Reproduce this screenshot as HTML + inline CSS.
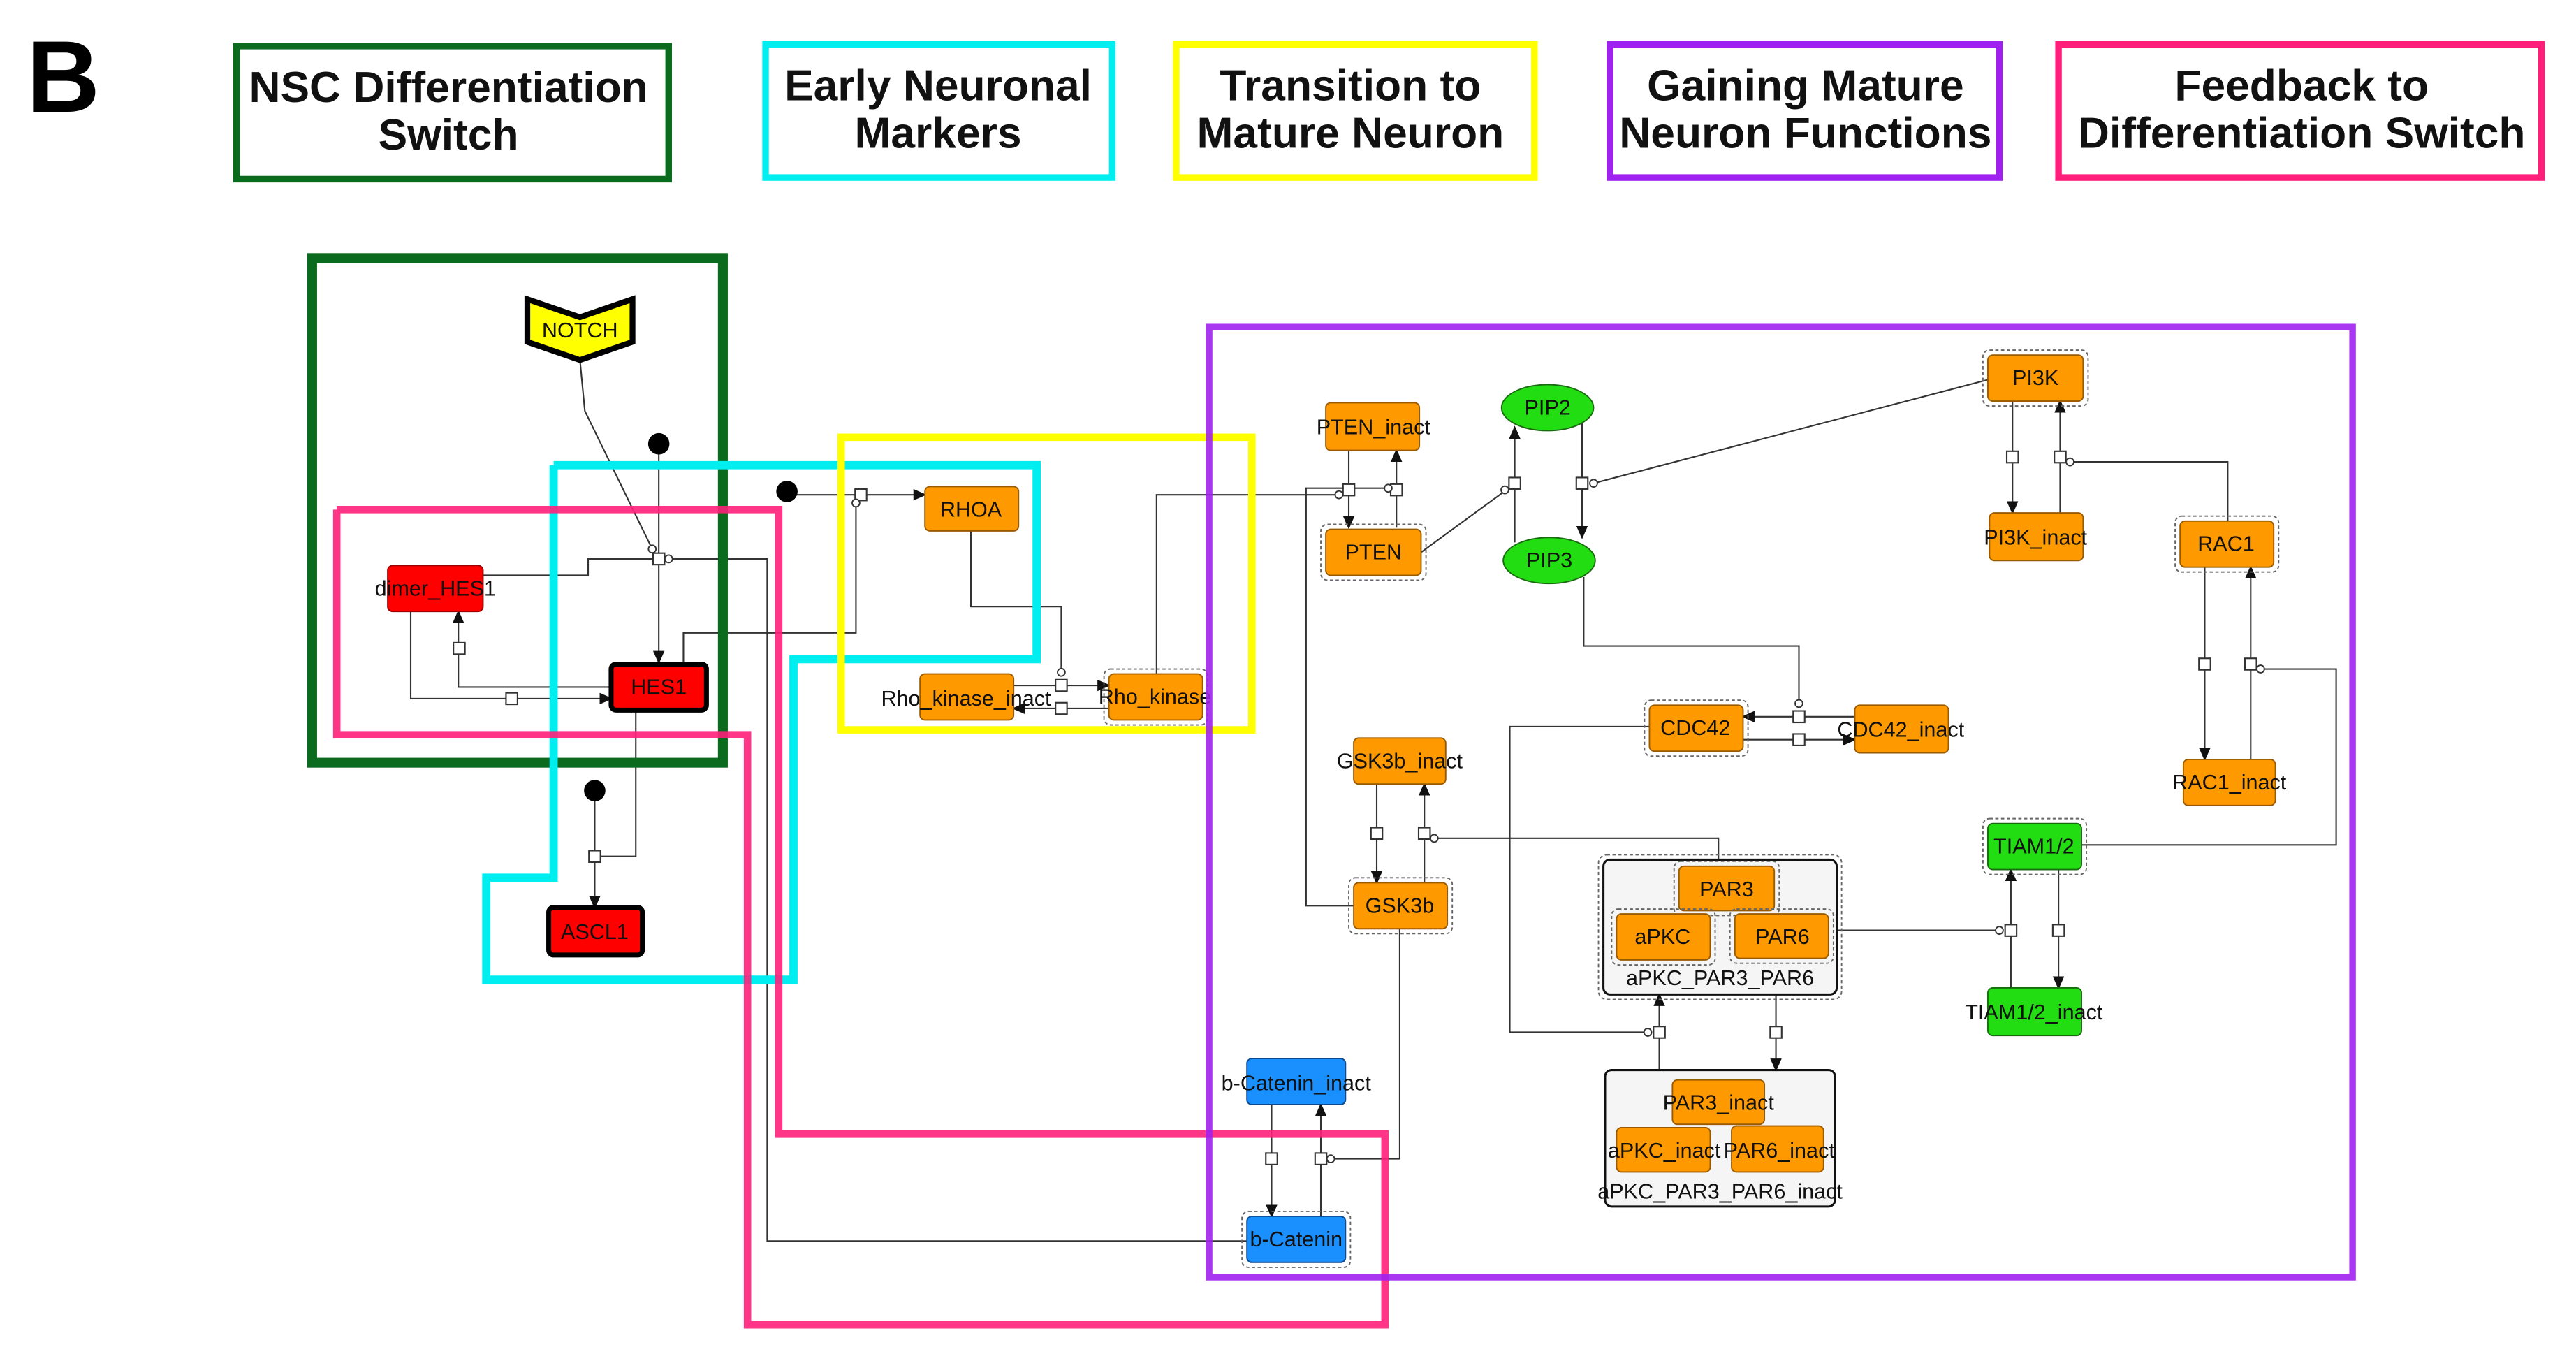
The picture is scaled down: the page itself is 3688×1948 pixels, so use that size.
<!DOCTYPE html>
<html><head><meta charset="utf-8"><style>
html,body{margin:0;padding:0;background:#fff;width:3688px;height:1948px;overflow:hidden}
svg{display:block}
text{font-family:"Liberation Sans",sans-serif}
.n{font-size:13px;text-anchor:middle;dominant-baseline:central;fill:#111}
.lg{font-size:26.5px;font-weight:bold;text-anchor:middle;fill:#111}
.e{fill:none;stroke:#333;stroke-width:0.9}
.sq{fill:#fff;stroke:#333;stroke-width:0.9}
.c{fill:#fff;stroke:#333;stroke-width:0.8}
.o{fill:#ff9900;stroke:#9a5a00;stroke-width:0.8}
.d{fill:none;stroke:#666;stroke-width:0.8;stroke-dasharray:2,1.5}
</style></head><body>
<svg width="3688" height="1948" viewBox="0 0 1568 828" preserveAspectRatio="none">
<defs><marker id="a" markerWidth="8" markerHeight="8" refX="7" refY="4" orient="auto" markerUnits="userSpaceOnUse"><path d="M0,0.5 L8,4 L0,7.5z" fill="#111"/></marker></defs>
<text x="16" y="68" style="font-size:62px;font-weight:bold">B</text>
<rect x="144" y="28" width="263" height="81" fill="none" stroke="#0a6b1f" stroke-width="4"/>
<text class="lg" x="273" y="62">NSC Differentiation</text><text class="lg" x="273" y="91">Switch</text>
<rect x="466" y="27" width="211" height="81" fill="none" stroke="#00eef0" stroke-width="4"/>
<text class="lg" x="571" y="61">Early Neuronal</text><text class="lg" x="571" y="90">Markers</text>
<rect x="716" y="27" width="218" height="81" fill="none" stroke="#ffff00" stroke-width="4"/>
<text class="lg" x="822" y="61">Transition to</text><text class="lg" x="822" y="90">Mature Neuron</text>
<rect x="980" y="27" width="237" height="81" fill="none" stroke="#a020f0" stroke-width="4"/>
<text class="lg" x="1099" y="61">Gaining Mature</text><text class="lg" x="1099" y="90">Neuron Functions</text>
<rect x="1253" y="27" width="294" height="81" fill="none" stroke="#ff1f7a" stroke-width="4"/>
<text class="lg" x="1401" y="61">Feedback to</text><text class="lg" x="1401" y="90">Differentiation Switch</text>

<g class="e">
<polyline points="353,219 356,250 397,334"/>
<line x1="401" y1="276" x2="401" y2="403" marker-end="url(#a)"/>
<polyline points="405,340 467,340 467,755 759,755"/>
<polyline points="294,350 358,350 358,340 398,340"/>
<polyline points="372,418 279,418 279,372" marker-end="url(#a)"/>
<polyline points="250,372 250,425 372,425" marker-end="url(#a)"/>
<polyline points="416,403 416,385 521,385 521,304"/>
<line x1="479" y1="301" x2="563" y2="301" marker-end="url(#a)"/>
<polyline points="387,433 387,521 362,521"/>
<line x1="362" y1="486" x2="362" y2="552" marker-end="url(#a)"/>
<polyline points="591,323 591,369 646,369 646,410"/>
<line x1="617" y1="417" x2="675" y2="417" marker-end="url(#a)"/>
<line x1="675" y1="431" x2="617" y2="431" marker-end="url(#a)"/>
<polyline points="704,410 704,301 815,301"/>
<line x1="821" y1="274" x2="821" y2="321" marker-end="url(#a)"/>
<line x1="850" y1="321" x2="850" y2="274" marker-end="url(#a)"/>
<polyline points="824,551 795,551 795,297 845,297"/>
<line x1="865" y1="336" x2="917" y2="298"/>
<line x1="922" y1="330" x2="922" y2="260" marker-end="url(#a)"/>
<line x1="963" y1="256" x2="963" y2="327" marker-end="url(#a)"/>
<line x1="970" y1="294" x2="1210" y2="231"/>
<polyline points="964,351 964,393 1095,393 1095,428"/>
<line x1="1129" y1="436" x2="1061" y2="436" marker-end="url(#a)"/>
<line x1="1061" y1="450" x2="1129" y2="450" marker-end="url(#a)"/>
<polyline points="1004,442 919,442 919,628 1004,628"/>
<line x1="1010" y1="651" x2="1010" y2="605" marker-end="url(#a)"/>
<line x1="1081" y1="605" x2="1081" y2="651" marker-end="url(#a)"/>
<line x1="838" y1="477" x2="838" y2="537" marker-end="url(#a)"/>
<line x1="867" y1="537" x2="867" y2="477" marker-end="url(#a)"/>
<polyline points="873,510 1046,510 1046,527"/>
<polyline points="852,565 852,705 810,705"/>
<line x1="774" y1="672" x2="774" y2="740" marker-end="url(#a)"/>
<line x1="804" y1="740" x2="804" y2="672" marker-end="url(#a)"/>
<line x1="1225" y1="244" x2="1225" y2="312" marker-end="url(#a)"/>
<line x1="1254" y1="312" x2="1254" y2="244" marker-end="url(#a)"/>
<polyline points="1260,281 1356,281 1356,317"/>
<line x1="1342" y1="345" x2="1342" y2="462" marker-end="url(#a)"/>
<line x1="1370" y1="462" x2="1370" y2="345" marker-end="url(#a)"/>
<polyline points="1376,407 1422,407 1422,514 1267,514"/>
<line x1="1224" y1="601" x2="1224" y2="529" marker-end="url(#a)"/>
<line x1="1253" y1="529" x2="1253" y2="601" marker-end="url(#a)"/>
<line x1="1118" y1="566" x2="1217" y2="566"/>
</g>
<g>
<rect class="sq" x="397.5" y="336.5" width="7" height="7"/><circle class="c" cx="397" cy="334" r="2.3"/><circle class="c" cx="407" cy="340" r="2.3"/>
<rect class="sq" x="276" y="391" width="7" height="7"/>
<rect class="sq" x="308" y="421.5" width="7" height="7"/>
<rect class="sq" x="520.5" y="297.5" width="7" height="7"/><circle class="c" cx="521" cy="306" r="2.3"/>
<rect class="sq" x="358.5" y="517.5" width="7" height="7"/>
<rect class="sq" x="642.5" y="413.5" width="7" height="7"/><circle class="c" cx="646" cy="409" r="2.3"/>
<rect class="sq" x="642.5" y="427.5" width="7" height="7"/>
<rect class="sq" x="817.5" y="294.5" width="7" height="7"/><circle class="c" cx="815" cy="301" r="2.3"/>
<rect class="sq" x="846.5" y="294.5" width="7" height="7"/><circle class="c" cx="845" cy="297" r="2.3"/>
<rect class="sq" x="918.5" y="290.5" width="7" height="7"/><circle class="c" cx="916" cy="298" r="2.3"/>
<rect class="sq" x="959.5" y="290.5" width="7" height="7"/><circle class="c" cx="970" cy="294" r="2.3"/>
<rect class="sq" x="1091.5" y="432.5" width="7" height="7"/><circle class="c" cx="1095" cy="428" r="2.3"/>
<rect class="sq" x="1091.5" y="446.5" width="7" height="7"/>
<rect class="sq" x="1006.5" y="624.5" width="7" height="7"/><circle class="c" cx="1003" cy="628" r="2.3"/>
<rect class="sq" x="1077.5" y="624.5" width="7" height="7"/>
<rect class="sq" x="834.5" y="503.5" width="7" height="7"/>
<rect class="sq" x="863.5" y="503.5" width="7" height="7"/><circle class="c" cx="873" cy="510" r="2.3"/>
<rect class="sq" x="770.5" y="701.5" width="7" height="7"/>
<rect class="sq" x="800.5" y="701.5" width="7" height="7"/><circle class="c" cx="810" cy="705" r="2.3"/>
<rect class="sq" x="1221.5" y="274.5" width="7" height="7"/>
<rect class="sq" x="1250.5" y="274.5" width="7" height="7"/><circle class="c" cx="1260" cy="281" r="2.3"/>
<rect class="sq" x="1338.5" y="400.5" width="7" height="7"/>
<rect class="sq" x="1366.5" y="400.5" width="7" height="7"/><circle class="c" cx="1376" cy="407" r="2.3"/>
<rect class="sq" x="1220.5" y="562.5" width="7" height="7"/><circle class="c" cx="1217" cy="566" r="2.3"/>
<rect class="sq" x="1249.5" y="562.5" width="7" height="7"/>
<circle cx="401" cy="270" r="6.5" fill="#000"/><circle cx="479" cy="299" r="6.5" fill="#000"/><circle cx="362" cy="481" r="6.5" fill="#000"/>
</g>

<path d="M321,182 L353,193 L385,182 L385,208 L353,219 L321,208z" fill="#ffff00" stroke="#000" stroke-width="3.5"/>
<text class="n" x="353" y="201">NOTCH</text>
<rect x="236" y="344" width="58" height="28" rx="3" fill="#ff0000" stroke="#900" stroke-width="0.8"/><text class="n" x="265" y="358">dimer_HES1</text>
<rect x="372" y="404" width="58" height="28" rx="3" fill="#ff0000" stroke="#000" stroke-width="3"/><text class="n" x="401" y="418">HES1</text>
<rect x="334" y="552" width="57" height="29" rx="3" fill="#ff0000" stroke="#000" stroke-width="3"/><text class="n" x="362" y="567">ASCL1</text>
<rect class="o" x="563" y="296" width="57" height="27" rx="3"/><text class="n" x="591" y="310">RHOA</text>
<rect class="o" x="560" y="410" width="57" height="28" rx="3"/><text class="n" x="588" y="425">Rho_kinase_inact</text>
<rect class="d" x="672" y="407" width="63" height="34" rx="4"/><rect class="o" x="675" y="410" width="57" height="28" rx="3"/><text class="n" x="703" y="424">Rho_kinase</text>

<rect class="o" x="807" y="245" width="57" height="29" rx="3"/><text class="n" x="836" y="260">PTEN_inact</text>
<rect class="d" x="804" y="319" width="64" height="34" rx="4"/><rect class="o" x="807" y="322" width="58" height="28" rx="3"/><text class="n" x="836" y="336">PTEN</text>
<ellipse cx="942" cy="248" rx="28" ry="14" fill="#22dd11" stroke="#196b10" stroke-width="0.8"/><text class="n" x="942" y="248">PIP2</text>
<ellipse cx="943" cy="341" rx="28" ry="14" fill="#22dd11" stroke="#196b10" stroke-width="0.8"/><text class="n" x="943" y="341">PIP3</text>
<rect class="d" x="1207" y="213" width="64" height="34" rx="4"/><rect class="o" x="1210" y="216" width="58" height="28" rx="3"/><text class="n" x="1239" y="230">PI3K</text>
<rect class="o" x="1211" y="312" width="57" height="29" rx="3"/><text class="n" x="1239" y="327">PI3K_inact</text>
<rect class="d" x="1324" y="314" width="63" height="34" rx="4"/><rect class="o" x="1327" y="317" width="57" height="28" rx="3"/><text class="n" x="1355" y="331">RAC1</text>
<rect class="o" x="1329" y="462" width="56" height="28" rx="3"/><text class="n" x="1357" y="476">RAC1_inact</text>
<rect class="d" x="1207" y="498" width="63" height="34" rx="4"/><rect x="1210" y="501" width="57" height="28" rx="3" fill="#22dd11" stroke="#196b10" stroke-width="0.8"/><text class="n" x="1238" y="515">TIAM1/2</text>
<rect x="1210" y="601" width="57" height="29" rx="3" fill="#22dd11" stroke="#196b10" stroke-width="0.8"/><text class="n" x="1238" y="616">TIAM1/2_inact</text>
<rect class="d" x="1001" y="426" width="63" height="34" rx="4"/><rect class="o" x="1004" y="429" width="57" height="28" rx="3"/><text class="n" x="1032" y="443">CDC42</text>
<rect class="o" x="1129" y="429" width="57" height="29" rx="3"/><text class="n" x="1157" y="444">CDC42_inact</text>
<rect class="o" x="824" y="449" width="56" height="28" rx="3"/><text class="n" x="852" y="463">GSK3b_inact</text>
<rect class="d" x="821" y="534" width="63" height="34" rx="4"/><rect class="o" x="824" y="537" width="57" height="28" rx="3"/><text class="n" x="852" y="551">GSK3b</text>
<rect class="d" x="973" y="520" width="148" height="88" rx="5"/>
<rect x="976" y="523" width="142" height="82" rx="4" fill="#f5f5f5" stroke="#111" stroke-width="1.3"/>
<rect class="d" x="1019" y="524" width="64" height="33" rx="4"/><rect class="o" x="1022" y="527" width="58" height="27" rx="3"/><text class="n" x="1051" y="541">PAR3</text>
<rect class="d" x="981" y="553" width="63" height="34" rx="4"/><rect class="o" x="984" y="556" width="57" height="28" rx="3"/><text class="n" x="1012" y="570">aPKC</text>
<rect class="d" x="1053" y="553" width="63" height="33" rx="4"/><rect class="o" x="1056" y="556" width="57" height="27" rx="3"/><text class="n" x="1085" y="570">PAR6</text>
<text class="n" x="1047" y="595">aPKC_PAR3_PAR6</text>
<rect x="977" y="651" width="140" height="83" rx="4" fill="#f5f5f5" stroke="#111" stroke-width="1.3"/>
<rect class="o" x="1018" y="657" width="56" height="27" rx="3"/><text class="n" x="1046" y="671">PAR3_inact</text>
<rect class="o" x="984" y="686" width="57" height="27" rx="3"/><text class="n" x="1013" y="700">aPKC_inact</text>
<rect class="o" x="1054" y="685" width="56" height="28" rx="3"/><text class="n" x="1083" y="700">PAR6_inact</text>
<text class="n" x="1047" y="725">aPKC_PAR3_PAR6_inact</text>
<rect x="759" y="644" width="60" height="28" rx="3" fill="#1a90ff" stroke="#0a4a90" stroke-width="0.8"/><text class="n" x="789" y="659">b-Catenin_inact</text>
<rect class="d" x="756" y="737" width="66" height="34" rx="4"/><rect x="759" y="740" width="60" height="28" rx="3" fill="#1a90ff" stroke="#0a4a90" stroke-width="0.8"/><text class="n" x="789" y="754">b-Catenin</text>

<g fill="none" stroke-linejoin="miter">
<rect x="190" y="157" width="250" height="307" stroke="#0a6b1f" stroke-width="6"/>
<polyline points="337,283 631,283 631,401 483,401 483,596 296,596 296,534 337,534 337,283" stroke="#00eef0" stroke-width="5"/>
<polyline points="205,310 474,310 474,690 843,690 843,806 455,806 455,447 205,447 205,310" stroke="#ff1f7a" stroke-width="4.5" opacity="0.9"/>
<rect x="512" y="266" width="250" height="178" stroke="#ffff00" stroke-width="4.5"/>
<rect x="736" y="199" width="696" height="578" stroke="#a020f0" stroke-width="4" opacity="0.9"/>
</g>
</svg>
</body></html>
